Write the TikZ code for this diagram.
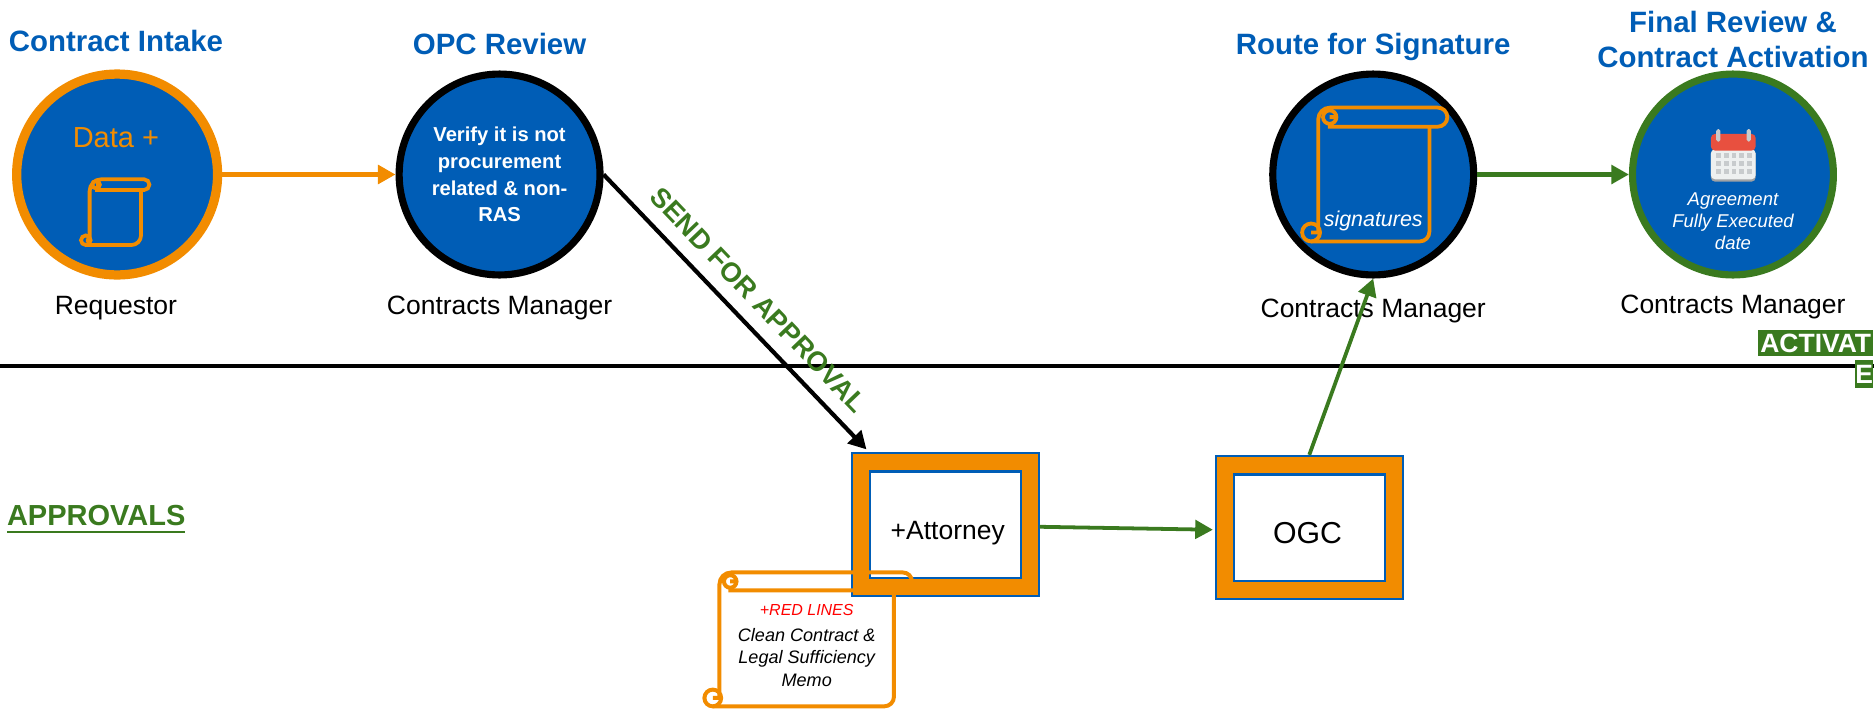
\documentclass[tikz,border=0pt]{standalone}
\usepackage{fontspec}
\setmainfont{Liberation Sans}
\usetikzlibrary{arrows.meta}
\definecolor{stepblue}{HTML}{005DB6}
\definecolor{steporange}{HTML}{F28C00}
\definecolor{stepgreen}{HTML}{3A7A1F}
\definecolor{calred}{HTML}{E8503F}
\definecolor{calgrey}{HTML}{C8CBCD}
\definecolor{calbody}{HTML}{EEF0F0}
\begin{document}
\begin{tikzpicture}[x=.01cm,y=-.01cm]
		\tikzset{stage/.style = {shape=circle,draw,fill=stepblue,minimum size=1.68cm,inner sep=0pt,align=center}}
		\tikzset{frame/.style = {shape=rectangle,draw=stepblue,fill=steporange,line width=.5pt,minimum width=1.56cm,minimum height=1.2cm}}
		\tikzset{pane/.style = {shape=rectangle,draw=stepblue,fill=white,line width=.5pt,minimum width=1.26cm,minimum height=.89cm}}
		\tikzset{title/.style = {text=stepblue,font=\bfseries\fontsize{7}{8.3}\selectfont,align=center}}
		\tikzset{role/.style = {font=\fontsize{6.3}{7.5}\selectfont}}
		\tikzset{edge/.style = {->,> = {Triangle[length=4.2pt,width=4.4pt]}}}
		\tikzset{tag/.style = {fill=stepgreen,text=white,inner xsep=0pt,inner ysep=0pt,anchor=east,font=\bfseries\fontsize{6.3}{7}\selectfont}}
		\tikzset{pics/scrollicon/.style args = {#1/#2/#3/#4/#5/#6/#7}{code = {
			\draw[rounded corners=2.3pt] (#1-.8*#7,#5) -- (#3,#5) -- (#3,#2+#6);
			\draw[rounded corners=2.8pt] (#1,#5-#7) -- (#1,#2) [sharp corners] -- (#4-#6/2,#2) arc (-90:90:#6/2) -- (#1+#6*.5,#2+#6);
			\draw (#1+#6*.6,#2+#6/2) circle (#6*.35) (#1+#6*.6,#2+#6/2) -- ++(#6*.35,0);
			\draw (#1-.8*#7,#5-#7) circle (#7) (#1-.8*#7,#5-#7) -- ++(#7,0);
		}}}
		\path[use as bounding box] (0,0) rectangle (1568,592.4);
		% top row
		\node[title] (intake) at (97,34) {Contract Intake};
		\node[title] (review) at (418,37) {OPC Review};
		\node[title] (route) at (1149,39) {Route for Signature};
		\node[title] (final) at (1450,33) {Final Review \&\\Contract Activation};
		\node[stage,draw=steporange,line width=2.2pt] (a) at (98,146) {};
		\node[stage,line width=1.7pt,text=white,font=\bfseries\fontsize{4.8}{6.35}\selectfont] (b) at (418,146) {Verify it is not\\procurement\\related \& non-\\RAS};
		\node[stage,line width=1.7pt] (c) at (1149,146) {};
		\node[stage,draw=stepgreen,line width=1.7pt] (d) at (1450,146) {};
		\node[text=steporange,font=\fontsize{6.9}{8}\selectfont] (data) at (97,115) {Data +};
		\pic[draw=steporange,line width=.9pt] {scrollicon=75/150/118/125/205/9/4};
		\pic[draw=steporange,line width=.9pt] {scrollicon=1103/90/1196/1211/202/16/7.5};
		\node[text=white,font=\itshape\fontsize{5.1}{6}\selectfont] (sig) at (1149,185) {signatures};
		\node[text=white,align=center,font=\itshape\fontsize{4.4}{5.3}\selectfont] (exec) at (1450,185) {Agreement\\Fully Executed\\date};
		% calendar
		\fill[rounded corners=1pt,fill=calgrey!80!black] (1431.5,125) rectangle (1469,152);
		\fill[rounded corners=1pt,fill=calbody] (1431.5,125) rectangle (1469,150);
		\fill[rounded corners=1pt,fill=calred] (1431.5,112) rectangle (1469,126);
		\fill[rounded corners=.4pt,fill=calgrey] (1436,108) rectangle (1439.4,118.5);
		\fill[rounded corners=.4pt,fill=calgrey] (1461.5,108) rectangle (1464.9,118.5);
		\foreach \i in {0,...,4}
			\foreach \j in {0,...,2}
				\fill[fill=calgrey] (1436+6.4*\i,128.2+6.7*\j) rectangle ++(4,4.2);
		\node[role] (r1) at (97,258) {Requestor};
		\node[role] (r2) at (418,258) {Contracts Manager};
		\node[role] (r3) at (1149,260) {Contracts Manager};
		\node[role] (r4) at (1450,257) {Contracts Manager};
		% divider
		\coordinate (left) at (0,306);
		\coordinate (right) at (1568,306);
		\draw[line width=.9pt] (left) -- (right);
		\node[tag,minimum height=.22cm,minimum width=.96cm] (act) at (1568,287) {ACTIVAT};
		\node[tag,minimum height=.24cm,minimum width=.15cm] (ivate) at (1568,313) {E};
		% approvals
		\node[text=stepgreen,font=\bfseries\fontsize{6.9}{8}\selectfont,inner sep=0pt] (appr) at (80.5,435) {\underline{APPROVALS}};
		\node[frame] (e) at (791,439) {};
		\node[pane] (e1) at (e) {};
		\node[role] (e2) at (793,446) {+Attorney};
		\node[frame] (f) at (1095.5,441.5) {};
		\node[pane] (f1) at (f) {};
		\node[font=\fontsize{7.2}{8}\selectfont] (f2) at (1094,446) {OGC};
		\pic[draw=steporange,line width=.95pt] {scrollicon=602/479/748/763/591/15/7};
		\node[text=red,font=\itshape\fontsize{3.8}{4}\selectfont] (red) at (675,510) {+RED LINES};
		\node[align=center,font=\itshape\fontsize{4.3}{5.4}\selectfont] (memo) at (675,550) {Clean Contract \&\\Legal Sufficiency\\Memo};
		% connectors
		\coordinate (einto) at (725,376);
		\path[edge,line width=1.1pt,color=steporange] (a) edge (b);
		\path[edge,line width=1pt] (b.east) edge node[pos=.52,sloped,yshift=6pt,text=stepgreen,font=\bfseries\fontsize{6.5}{8}\selectfont] {SEND FOR APPROVAL} (einto);
		\path[edge,line width=1.1pt,color=stepgreen] (c) edge (d);
		\path[edge,line width=.9pt,color=stepgreen,shorten >=.5pt] ([yshift=-.5pt]e.east) edge ([yshift=-.5pt]f.west);
		\path[edge,line width=.9pt,color=stepgreen] (f.north) edge (c.south);
	\end{tikzpicture}
\end{document}
